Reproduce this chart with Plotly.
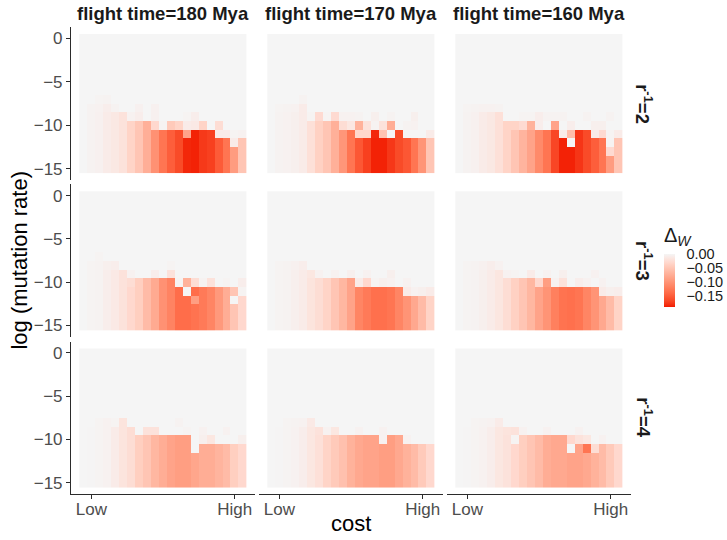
import plotly.graph_objects as go

# ---------------------------------------------------------------- data
FLIGHT_TIMES = [180, 170, 160]          # facet columns (Mya)
R_INV = [2, 3, 4]                       # facet rows (r^-1)
COST_LEVELS = list(range(1, 22))        # 21 cost steps, Low -> High
LOG_MU = [0, -1, -2, -3, -4, -5, -6, -7, -8, -9, -10, -11, -12, -13, -14, -15]
COST_TICKS = [2, 20]
COST_LABELS = ["Low", "High"]
LOG_MU_TICKS = [0, -5, -10, -15]
LOG_MU_LABELS = ["0", "\u22125", "\u221210", "\u221215"]
DW_TICKS = [0.0, -0.05, -0.10, -0.15]
DW_LABELS = ["0.00", "\u22120.05", "\u22120.10", "\u22120.15"]

ZERO = [0, 0, 0, 0, 0, 0, 0, 0, 0, 0, 0, 0, 0, 0, 0, 0, 0, 0, 0, 0, 0]

# Delta_W, rows ordered as LOG_MU (0 at top, -15 at bottom)
DW_R2_180 = [ZERO, ZERO, ZERO, ZERO, ZERO, ZERO, ZERO,
    [0, 0, -.002, -.003, 0, 0, 0, 0, 0, 0, 0, 0, 0, 0, 0, 0, 0, 0, 0, 0, 0],
    [0, -.003, -.004, -.008, -.003, 0, 0, -.005, 0, -.005, 0, 0, 0, 0, 0, 0, 0, 0, 0, 0, 0],
    [0, -.003, -.005, -.010, -.014, -.020, -.004, -.008, 0, -.005, 0, 0, 0, -.002, -.008, 0, 0, 0, 0, 0, 0],
    [0, -.003, -.005, -.010, -.014, -.020, -.035, -.048, -.072, -.030, -.002, -.045, -.035, -.010, -.012, -.035, 0, -.025, 0, 0, 0],
    [0, -.003, -.005, -.010, -.014, -.020, -.035, -.050, -.074, -.103, -.130, -.150, -.165, -.085, -.187, -.176, -.172, -.010, -.010, -.002, -.004],
    [0, -.003, -.005, -.010, -.014, -.020, -.035, -.050, -.074, -.103, -.130, -.150, -.165, -.185, -.187, -.176, -.172, -.152, -.130, -.010, -.050],
    [0, -.003, -.005, -.010, -.014, -.020, -.035, -.050, -.074, -.103, -.130, -.150, -.165, -.185, -.187, -.176, -.172, -.152, -.130, -.092, -.050],
    [0, -.003, -.005, -.010, -.014, -.020, -.035, -.050, -.074, -.103, -.130, -.150, -.165, -.185, -.187, -.176, -.172, -.152, -.130, -.092, -.050],
    [0, -.003, -.005, -.010, -.014, -.020, -.035, -.050, -.074, -.103, -.130, -.150, -.165, -.185, -.187, -.176, -.172, -.152, -.130, -.092, -.050],
]

DW_R2_170 = [ZERO, ZERO, ZERO, ZERO, ZERO, ZERO, ZERO,
    [0, 0, 0, 0, -.003, 0, 0, 0, 0, 0, 0, 0, 0, 0, 0, 0, 0, 0, 0, 0, 0],
    [0, -.002, -.003, -.004, -.010, 0, 0, 0, 0, 0, 0, 0, 0, 0, 0, 0, 0, 0, 0, 0, 0],
    [0, -.003, -.004, -.006, -.010, -.002, -.028, -.002, -.028, -.004, -.004, -.003, 0, -.006, 0, -.003, 0, 0, -.006, 0, 0],
    [0, -.003, -.004, -.006, -.010, -.022, -.038, -.050, -.072, -.025, -.015, -.070, -.020, -.003, -.020, -.075, 0, -.003, -.004, 0, 0],
    [0, -.003, -.004, -.006, -.010, -.022, -.038, -.050, -.072, -.098, -.130, -.032, -.032, -.185, -.052, 0, -.165, 0, 0, 0, -.010],
    [0, -.003, -.004, -.006, -.010, -.022, -.038, -.050, -.072, -.098, -.130, -.155, -.172, -.187, -.187, -.177, -.165, -.155, -.130, -.100, -.050],
    [0, -.003, -.004, -.006, -.010, -.022, -.038, -.050, -.072, -.098, -.130, -.155, -.172, -.187, -.187, -.177, -.165, -.155, -.130, -.100, -.050],
    [0, -.003, -.004, -.006, -.010, -.022, -.038, -.050, -.072, -.098, -.130, -.155, -.172, -.187, -.187, -.177, -.165, -.155, -.130, -.100, -.050],
    [0, -.003, -.004, -.006, -.010, -.022, -.038, -.050, -.072, -.098, -.130, -.155, -.172, -.187, -.187, -.177, -.165, -.155, -.130, -.100, -.050],
]

DW_R2_160 = [ZERO, ZERO, ZERO, ZERO, ZERO, ZERO, ZERO, ZERO,
    [0, -.002, -.003, -.004, -.004, -.003, 0, 0, 0, 0, 0, 0, 0, 0, 0, 0, 0, 0, 0, 0, 0],
    [0, -.003, -.005, -.010, -.014, -.022, 0, 0, -.002, -.002, -.008, -.003, -.003, -.003, 0, 0, -.003, 0, 0, -.003, 0],
    [0, -.003, -.005, -.010, -.014, -.022, -.035, -.035, -.028, -.070, -.008, 0, -.085, 0, -.008, 0, 0, -.006, -.006, 0, 0],
    [0, -.003, -.005, -.010, -.014, -.022, -.035, -.050, -.068, -.085, -.110, -.130, -.168, -.010, -.058, -.178, -.165, -.010, -.028, -.002, -.010],
    [0, -.003, -.005, -.010, -.014, -.022, -.035, -.050, -.068, -.085, -.110, -.130, -.168, -.187, 0, -.178, -.165, -.150, -.130, -.002, -.050],
    [0, -.003, -.005, -.010, -.014, -.022, -.035, -.050, -.068, -.085, -.110, -.130, -.168, -.187, -.187, -.178, -.165, -.150, -.130, -.028, -.050],
    [0, -.003, -.005, -.010, -.014, -.022, -.035, -.050, -.068, -.085, -.110, -.130, -.168, -.187, -.187, -.178, -.165, -.150, -.130, -.092, -.050],
    [0, -.003, -.005, -.010, -.014, -.022, -.035, -.050, -.068, -.085, -.110, -.130, -.168, -.187, -.187, -.178, -.165, -.150, -.130, -.092, -.050],
]

DW_R3_180 = [ZERO, ZERO, ZERO, ZERO, ZERO, ZERO, ZERO,
    [0, 0, -.002, 0, 0, 0, 0, 0, 0, 0, 0, 0, 0, 0, 0, 0, 0, 0, 0, 0, 0],
    [0, -.002, -.003, -.006, -.008, 0, 0, 0, 0, 0, 0, -.002, 0, 0, 0, 0, 0, 0, 0, 0, 0],
    [0, -.002, -.003, -.008, -.012, -.020, -.004, 0, 0, -.008, 0, -.020, 0, 0, 0, 0, 0, 0, 0, 0, 0],
    [0, -.002, -.003, -.008, -.012, -.020, -.025, -.040, -.060, -.078, -.103, -.117, -.002, -.070, -.025, -.003, -.020, 0, -.002, 0, -.008],
    [0, -.002, -.003, -.008, -.012, -.020, -.030, -.040, -.060, -.078, -.103, -.117, -.137, 0, -.137, -.125, -.115, -.095, -.075, -.050, -.002],
    [0, -.002, -.003, -.008, -.012, -.020, -.030, -.040, -.060, -.078, -.103, -.117, -.137, -.137, -.090, -.125, -.115, -.095, -.075, 0, -.030],
    [0, -.002, -.003, -.008, -.012, -.020, -.030, -.040, -.060, -.078, -.103, -.117, -.137, -.137, -.132, -.125, -.115, -.095, -.075, -.050, -.030],
    [0, -.002, -.003, -.008, -.012, -.020, -.030, -.040, -.060, -.078, -.103, -.117, -.137, -.137, -.132, -.125, -.115, -.095, -.075, -.050, -.030],
    [0, -.002, -.003, -.008, -.012, -.020, -.030, -.040, -.060, -.078, -.103, -.117, -.137, -.137, -.132, -.125, -.115, -.095, -.075, -.050, -.030],
]

DW_R3_170 = [ZERO, ZERO, ZERO, ZERO, ZERO, ZERO, ZERO, ZERO,
    [0, -.002, -.003, -.005, -.008, 0, 0, 0, 0, 0, 0, 0, 0, 0, 0, 0, 0, 0, 0, 0, 0],
    [0, -.002, -.003, -.006, -.010, -.015, -.004, 0, -.004, 0, -.006, 0, -.004, 0, 0, -.006, 0, 0, 0, 0, 0],
    [0, -.002, -.003, -.006, -.010, -.018, -.025, -.035, -.050, -.065, -.085, -.010, -.030, -.002, -.006, -.004, 0, -.004, 0, 0, 0],
    [0, -.002, -.003, -.006, -.010, -.018, -.025, -.035, -.050, -.065, -.085, -.115, -.125, -.135, -.135, -.130, -.115, -.010, -.004, -.006, -.010],
    [0, -.002, -.003, -.006, -.010, -.018, -.025, -.035, -.050, -.065, -.085, -.115, -.125, -.135, -.135, -.130, -.115, -.100, -.080, -.060, -.035],
    [0, -.002, -.003, -.006, -.010, -.018, -.025, -.035, -.050, -.065, -.085, -.115, -.125, -.135, -.135, -.130, -.115, -.100, -.080, -.060, -.035],
    [0, -.002, -.003, -.006, -.010, -.018, -.025, -.035, -.050, -.065, -.085, -.115, -.125, -.135, -.135, -.130, -.115, -.100, -.080, -.060, -.035],
    [0, -.002, -.003, -.006, -.010, -.018, -.025, -.035, -.050, -.065, -.085, -.115, -.125, -.135, -.135, -.130, -.115, -.100, -.080, -.060, -.035],
]

DW_R3_160 = [ZERO, ZERO, ZERO, ZERO, ZERO, ZERO, ZERO, ZERO,
    [0, -.002, -.003, -.005, -.008, -.004, 0, 0, 0, 0, 0, 0, 0, 0, 0, 0, 0, 0, 0, 0, 0],
    [0, -.002, -.003, -.006, -.010, -.016, -.004, -.002, 0, -.010, 0, -.004, 0, -.006, 0, 0, 0, -.004, 0, 0, 0],
    [0, -.002, -.003, -.006, -.010, -.016, -.025, -.038, -.050, -.065, -.030, -.090, -.004, -.020, 0, -.008, -.004, 0, -.004, 0, 0],
    [0, -.002, -.003, -.006, -.010, -.016, -.025, -.038, -.050, -.065, -.085, -.100, -.120, -.132, -.135, -.130, -.115, -.100, -.010, -.006, -.008],
    [0, -.002, -.003, -.006, -.010, -.016, -.025, -.038, -.050, -.065, -.085, -.100, -.120, -.132, -.135, -.130, -.115, -.100, -.080, -.060, -.035],
    [0, -.002, -.003, -.006, -.010, -.016, -.025, -.038, -.050, -.065, -.085, -.100, -.120, -.132, -.135, -.130, -.115, -.100, -.080, -.060, -.035],
    [0, -.002, -.003, -.006, -.010, -.016, -.025, -.038, -.050, -.065, -.085, -.100, -.120, -.132, -.135, -.130, -.115, -.100, -.080, -.060, -.035],
    [0, -.002, -.003, -.006, -.010, -.016, -.025, -.038, -.050, -.065, -.085, -.100, -.120, -.132, -.135, -.130, -.115, -.100, -.080, -.060, -.035],
]

DW_R4_180 = [ZERO, ZERO, ZERO, ZERO, ZERO, ZERO, ZERO, ZERO,
    [0, 0, -.002, -.004, -.002, -.018, 0, 0, 0, 0, 0, 0, -.003, 0, 0, 0, 0, 0, 0, 0, 0],
    [0, -.001, -.002, -.004, -.010, -.018, -.025, 0, -.020, -.020, 0, 0, 0, -.002, 0, -.004, 0, 0, -.004, 0, 0],
    [0, -.001, -.002, -.004, -.010, -.018, -.025, -.040, -.050, -.065, -.075, -.085, -.090, -.090, 0, -.006, -.015, 0, 0, 0, -.006],
    [0, -.001, -.002, -.004, -.010, -.018, -.025, -.040, -.050, -.065, -.075, -.085, -.090, -.090, 0, -.075, -.075, -.068, -.060, -.040, -.030],
    [0, -.001, -.002, -.004, -.010, -.018, -.025, -.040, -.050, -.065, -.075, -.085, -.090, -.090, -.082, -.075, -.075, -.068, -.060, -.040, -.030],
    [0, -.001, -.002, -.004, -.010, -.018, -.025, -.040, -.050, -.065, -.075, -.085, -.090, -.090, -.082, -.075, -.075, -.068, -.060, -.040, -.030],
    [0, -.001, -.002, -.004, -.010, -.018, -.025, -.040, -.050, -.065, -.075, -.085, -.090, -.090, -.082, -.075, -.075, -.068, -.060, -.040, -.030],
    [0, -.001, -.002, -.004, -.010, -.018, -.025, -.040, -.050, -.065, -.075, -.085, -.090, -.090, -.082, -.075, -.075, -.068, -.060, -.040, -.030],
]

DW_R4_170 = [ZERO, ZERO, ZERO, ZERO, ZERO, ZERO, ZERO, ZERO,
    [0, 0, -.002, -.003, -.004, -.012, 0, 0, 0, 0, 0, 0, 0, 0, 0, 0, 0, 0, 0, 0, 0],
    [0, -.001, -.002, -.004, -.008, -.015, -.020, -.004, -.015, 0, 0, -.004, 0, 0, -.004, 0, 0, 0, 0, 0, 0],
    [0, -.001, -.002, -.004, -.008, -.015, -.022, -.035, -.045, -.055, -.070, -.080, -.085, -.085, -.004, -.090, -.080, -.004, 0, 0, 0],
    [0, -.001, -.002, -.004, -.008, -.015, -.022, -.035, -.045, -.055, -.070, -.080, -.085, -.085, -.090, -.090, -.080, -.070, -.060, -.045, -.030],
    [0, -.001, -.002, -.004, -.008, -.015, -.022, -.035, -.045, -.055, -.070, -.080, -.085, -.085, -.090, -.090, -.080, -.070, -.060, -.045, -.030],
    [0, -.001, -.002, -.004, -.008, -.015, -.022, -.035, -.045, -.055, -.070, -.080, -.085, -.085, -.090, -.090, -.080, -.070, -.060, -.045, -.030],
    [0, -.001, -.002, -.004, -.008, -.015, -.022, -.035, -.045, -.055, -.070, -.080, -.085, -.085, -.090, -.090, -.080, -.070, -.060, -.045, -.030],
    [0, -.001, -.002, -.004, -.008, -.015, -.022, -.035, -.045, -.055, -.070, -.080, -.085, -.085, -.090, -.090, -.080, -.070, -.060, -.045, -.030],
]

DW_R4_160 = [ZERO, ZERO, ZERO, ZERO, ZERO, ZERO, ZERO, ZERO,
    [0, 0, -.002, -.003, -.004, -.010, 0, 0, 0, 0, 0, 0, 0, 0, 0, 0, 0, 0, 0, 0, 0],
    [0, -.001, -.002, -.004, -.008, -.015, -.018, -.020, -.004, 0, 0, -.004, 0, 0, 0, -.004, 0, 0, 0, 0, 0],
    [0, -.001, -.002, -.004, -.008, -.015, -.020, -.002, -.040, -.050, -.060, -.075, -.080, -.080, -.030, -.020, -.015, 0, -.004, 0, 0],
    [0, -.001, -.002, -.004, -.008, -.015, -.020, -.030, -.040, -.050, -.060, -.075, -.080, -.080, 0, -.085, -.130, -.025, -.060, -.045, -.030],
    [0, -.001, -.002, -.004, -.008, -.015, -.020, -.030, -.040, -.050, -.060, -.075, -.080, -.080, -.085, -.085, -.080, -.070, -.060, -.045, -.030],
    [0, -.001, -.002, -.004, -.008, -.015, -.020, -.030, -.040, -.050, -.060, -.075, -.080, -.080, -.085, -.085, -.080, -.070, -.060, -.045, -.030],
    [0, -.001, -.002, -.004, -.008, -.015, -.020, -.030, -.040, -.050, -.060, -.075, -.080, -.080, -.085, -.085, -.080, -.070, -.060, -.045, -.030],
    [0, -.001, -.002, -.004, -.008, -.015, -.020, -.030, -.040, -.050, -.060, -.075, -.080, -.080, -.085, -.085, -.080, -.070, -.060, -.045, -.030],
]

PANELS = [
    [DW_R2_180, DW_R2_170, DW_R2_160],
    [DW_R3_180, DW_R3_170, DW_R3_160],
    [DW_R4_180, DW_R4_170, DW_R4_160],
]

DW_MIN, DW_MAX = -0.19, 0.0

# ---------------------------------------------------------------- colours
LOW_COLOR = "#F21A00"
HIGH_COLOR = "#F5F5F5"
_WP = (0.95047, 1.0, 1.08883)


def _lin(c):
    return c / 12.92 if c <= 0.04045 else ((c + 0.055) / 1.055) ** 2.4


def _delin(c):
    c = min(max(c, 0.0), 1.0)
    return 12.92 * c if c <= 0.0031308 else 1.055 * c ** (1 / 2.4) - 0.055


def _f(t):
    return t ** (1 / 3) if t > 216 / 24389 else (24389 / 27 * t + 16) / 116


def _finv(t):
    return t ** 3 if t ** 3 > 216 / 24389 else (116 * t - 16) / (24389 / 27)


def hex_to_lab(h):
    r, g, b = (_lin(int(h[i:i + 2], 16) / 255) for i in (1, 3, 5))
    x = 0.4124 * r + 0.3576 * g + 0.1805 * b
    y = 0.2126 * r + 0.7152 * g + 0.0722 * b
    z = 0.0193 * r + 0.1192 * g + 0.9505 * b
    fx, fy, fz = _f(x / _WP[0]), _f(y / _WP[1]), _f(z / _WP[2])
    return 116 * fy - 16, 500 * (fx - fy), 200 * (fy - fz)


def lab_to_rgb(L, a, b):
    fy = (L + 16) / 116
    fx, fz = fy + a / 500, fy - b / 200
    x, y, z = _WP[0] * _finv(fx), _WP[1] * _finv(fy), _WP[2] * _finv(fz)
    r = 3.2406 * x - 1.5372 * y - 0.4986 * z
    g = -0.9689 * x + 1.8758 * y + 0.0415 * z
    bb = 0.0557 * x - 0.2040 * y + 1.0570 * z
    return "rgb(%d,%d,%d)" % tuple(round(255 * _delin(c)) for c in (r, g, bb))


lab_lo, lab_hi = hex_to_lab(LOW_COLOR), hex_to_lab(HIGH_COLOR)
N_STOPS = 24
colorscale = []
for k in range(N_STOPS + 1):
    s = k / N_STOPS
    lab = [lo + (hi - lo) * s for lo, hi in zip(lab_lo, lab_hi)]
    colorscale.append([s, lab_to_rgb(*lab)])

# ---------------------------------------------------------------- layout geometry (px)
W, H = 727, 540
COL_PX = [(71, 255), (259, 443), (447, 631)]
ROW_PX = [(27.1, 180.2), (184.4, 336.8), (341.6, 494.0)]
X_RANGE = [0.5 - 1.05, 21.5 + 1.05]
Y_RANGE = [-15.5 - 0.8, 0.5 + 0.8]

TEXT_FONT = "Liberation Sans, Arial, sans-serif"
AXIS_COLOR = "#2b2b2b"

fig = go.Figure()
layout = dict(
    width=W, height=H, autosize=False,
    margin=dict(l=0, r=0, t=0, b=0),
    paper_bgcolor="white", plot_bgcolor="white",
    font=dict(family=TEXT_FONT, color="#1A1A1A"),
    showlegend=False,
)

for ri in range(3):
    for ci in range(3):
        idx = ri * 3 + ci + 1
        suffix = "" if idx == 1 else str(idx)
        fig.add_trace(go.Heatmap(
            x=COST_LEVELS, y=LOG_MU, z=PANELS[ri][ci],
            coloraxis="coloraxis", xaxis="x" + suffix, yaxis="y" + suffix,
            hoverinfo="skip",
        ))
        x0, x1 = COL_PX[ci]
        y0, y1 = ROW_PX[ri]
        bottom = ri == 2
        left = ci == 0
        layout["xaxis" + suffix] = dict(
            domain=[x0 / W, x1 / W], range=X_RANGE, anchor="y" + suffix,
            showgrid=False, zeroline=False,
            showline=bottom, linecolor=AXIS_COLOR, linewidth=1.1,
            tickmode="array", tickvals=COST_TICKS, ticktext=COST_LABELS,
            ticks="outside" if bottom else "", ticklen=4, tickwidth=1.1,
            tickcolor=AXIS_COLOR, showticklabels=bottom, ticklabelstandoff=-4,
            tickfont=dict(size=17, color="#4D4D4D"),
        )
        layout["yaxis" + suffix] = dict(
            domain=[1 - y1 / H, 1 - y0 / H], range=Y_RANGE, anchor="x" + suffix,
            showgrid=False, zeroline=False,
            showline=left, linecolor=AXIS_COLOR, linewidth=1.1,
            tickmode="array", tickvals=LOG_MU_TICKS, ticktext=LOG_MU_LABELS,
            ticks="outside" if left else "", ticklen=4, tickwidth=1.1,
            tickcolor=AXIS_COLOR, showticklabels=left,
            tickfont=dict(size=17, color="#4D4D4D"),
        )

# colour bar: the title sits inside the bar's length, so the box starts above it
layout["coloraxis"] = dict(
    colorscale=colorscale, cmin=DW_MIN, cmax=DW_MAX,
    colorbar=dict(
        x=664 / W, xanchor="left", y=1 - 224 / H, yanchor="top",
        len=83, lenmode="pixels", thickness=11, thicknessmode="pixels",
        outlinewidth=0, xpad=0, ypad=0,
        tickmode="array", tickvals=DW_TICKS, ticktext=DW_LABELS,
        ticks="outside", ticklen=9, tickcolor="rgba(0,0,0,0)", tickwidth=1,
        tickfont=dict(size=14.5, color="#1A1A1A"),
        title=dict(text="\u0394<sub><i>W</i></sub>", side="top",
                   font=dict(size=20, color="#1A1A1A")),
    ),
)

annotations = []
for ci, ft in enumerate(FLIGHT_TIMES):
    x0, x1 = COL_PX[ci]
    annotations.append(dict(
        text="<b>flight time=%d Mya</b>" % ft, x=(x0 + x1) / 2 / W, y=1 - 14 / H,
        xref="paper", yref="paper", showarrow=False, xanchor="center", yanchor="middle",
        font=dict(size=18.5, color="#1A1A1A"),
    ))
for ri, rv in enumerate(R_INV):
    y0, y1 = ROW_PX[ri]
    annotations.append(dict(
        text="<b>r<sup>-1</sup>=%d</b>" % rv, x=644.5 / W, y=1 - (y0 + y1) / 2 / H,
        xref="paper", yref="paper", showarrow=False, xanchor="center", yanchor="middle",
        textangle=90, font=dict(size=18.5, color="#1A1A1A"),
    ))
annotations.append(dict(
    text="log (mutation rate)", x=20 / W, y=1 - (ROW_PX[0][0] + ROW_PX[2][1]) / 2 / H,
    xref="paper", yref="paper", showarrow=False, xanchor="center", yanchor="middle",
    textangle=-90, font=dict(size=22, color="black"),
))
annotations.append(dict(
    text="cost", x=(COL_PX[0][0] + COL_PX[2][1]) / 2 / W, y=1 - 523 / H,
    xref="paper", yref="paper", showarrow=False, xanchor="center", yanchor="middle",
    font=dict(size=22, color="black"),
))
layout["annotations"] = annotations

fig.update_layout(**layout)
fig.write_html("out.html")
